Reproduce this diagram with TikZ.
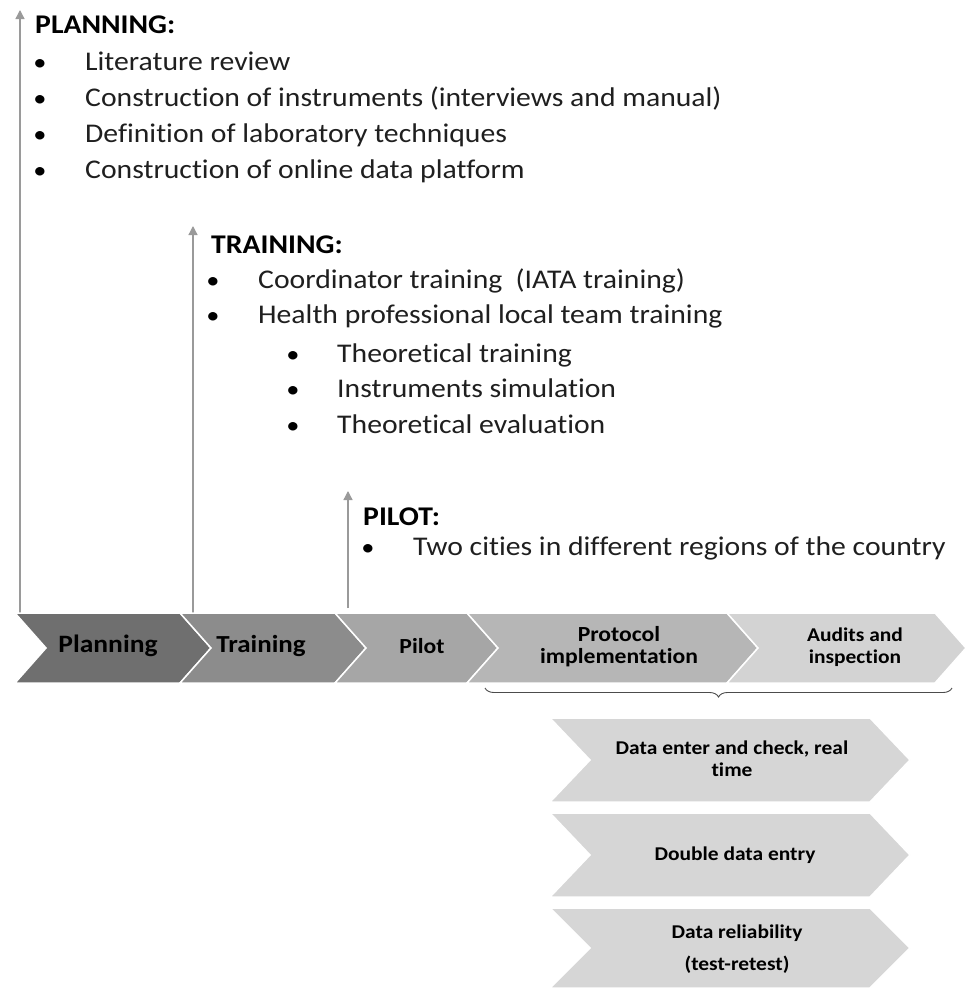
\documentclass[tikz,border=0pt]{standalone}
\usepackage{fontspec}
\setmainfont{Carlito}[FakeStretch=1.1, Ligatures=NoCommon]
\usepackage{xcolor}
\usetikzlibrary{arrows.meta, decorations.pathreplacing, positioning}

\definecolor{stepA}{HTML}{6F6F6F}
\definecolor{stepB}{HTML}{8C8C8C}
\definecolor{stepC}{HTML}{A6A6A6}
\definecolor{stepD}{HTML}{B6B6B6}
\definecolor{stepE}{HTML}{D3D3D3}
\definecolor{subStep}{HTML}{D6D6D6}
\definecolor{upLine}{HTML}{9A9A9A}

\begin{document}
\begin{tikzpicture}[x=1pt, y=-1pt,
    chev/.style={draw=white, line width=1.5pt},
    uparrow/.style={draw=upLine, line width=1.3pt, -{Triangle[width=9pt,length=9pt]}},
    head/.style={anchor=base west, inner sep=0pt, font=\bfseries\fontsize{27}{30}\selectfont},
    item/.style={anchor=base west, inner sep=0pt, text=black!88, font=\fontsize{27}{30}\selectfont},
    dot/.style={anchor=base, inner sep=0pt, font=\fontsize{24}{26}\selectfont},
    steplabel/.style={inner sep=0pt, align=center, font=\bfseries},
    brace/.style={draw=black!70, line width=0.9pt, decorate,
        decoration={brace, mirror, amplitude=9pt}}]

    % =================================================================
    % 1. KHUNG HINH
    % =================================================================
    \useasboundingbox (0,0) rectangle (966,988);

    % =================================================================
    % 2. CAC MUI TEN DUNG
    % =================================================================
    \coordinate (planlow) at (20,613);
    \coordinate (plantop) at (20,10);
    \coordinate (trainlow) at (193,613);
    \coordinate (traintop) at (193,226);
    \coordinate (pilotlow) at (348,608);
    \coordinate (pilottop) at (348,491);

    \draw[uparrow] (planlow) -- (plantop);
    \draw[uparrow] (trainlow) -- (traintop);
    \draw[uparrow] (pilotlow) -- (pilottop);

    % =================================================================
    % 3. DAI MUI TEN CHINH
    % =================================================================
    \foreach \a/\b/\c in {15/180/stepA, 180/335/stepB, 335/467/stepC,
                          467/727/stepD, 727/935/stepE}
        \filldraw[chev, fill=\c] (\a,613) -- (\b,613) -- ({\b+31},648)
            -- (\b,683) -- (\a,683) -- ({\a+31},648) -- cycle;

    \node[steplabel, font=\bfseries\fontsize{25}{28}\selectfont] (plan) at (108,646) {Planning};
    \node[steplabel, font=\bfseries\fontsize{24.5}{28}\selectfont] (train) at (261,646) {Training};
    \node[steplabel, font=\bfseries\fontsize{21.5}{25}\selectfont] (pilot) at (422,646) {Pilot};
    \node[steplabel, font=\bfseries\fontsize{21.5}{22}\selectfont] (proto) at (619,647)
        {Protocol\\implementation};
    \node[steplabel, font=\bfseries\fontsize{19.5}{22}\selectfont] (audit) at (855,647)
        {Audits and\\inspection};

    % ngoac nhon duoi hai buoc cuoi
    \coordinate (brL) at (485,688);
    \coordinate (brR) at (952,688);
    \draw[brace] (brL) -- (brR);

    % =================================================================
    % 4. CAC BUOC CON
    % =================================================================
    \foreach \t/\b in {718/802, 813/897, 908/988}
        \filldraw[chev, fill=subStep] (550,\t) -- (870,\t) -- (910,{(\t+\b)/2})
            -- (870,\b) -- (550,\b) -- (590,{(\t+\b)/2}) -- cycle;

    \node[steplabel, font=\bfseries\fontsize{19.5}{22}\selectfont] (dat1) at (732,759)
        {Data enter and check, real\\time};
    \node[steplabel, font=\bfseries\fontsize{19.5}{22}\selectfont] (dat2) at (735,855)
        {Double data entry};
    \node[steplabel, font=\bfseries\fontsize{19.5}{32}\selectfont] (dat3) at (737,949)
        {Data reliability\\(test-retest)};

    % =================================================================
    % 5. NOI DUNG TUNG GIAI DOAN
    % =================================================================
    \node[head] (planhead) at (35,33) {PLANNING:};
    \foreach \y/\t in {70/Literature review,
                       106/Construction of instruments (interviews and manual),
                       142/Definition of laboratory techniques,
                       178/Construction of online data platform} {
        \node[dot] (pd\y) at (40,\y) {•};
        \node[item] (pl\y) at (85,\y) {\t};
    }

    \node[head] (trainhead) at (211,253) {TRAINING:};
    \foreach \y/\t in {288/Coordinator training~~(IATA training),
                       323/Health professional local team training} {
        \node[dot] (td\y) at (213,\y) {•};
        \node[item] (tr\y) at (258,\y) {\t};
    }
    \foreach \y/\t in {362/Theoretical training,
                       397/Instruments simulation,
                       433/Theoretical evaluation} {
        \node[dot] (sd\y) at (293,\y) {•};
        \node[item] (st\y) at (337,\y) {\t};
    }

    \node[head] (pilothead) at (363,525) {PILOT:};
    \node[dot] (pid) at (368,555) {•};
    \node[item] (pi555) at (413,555) {Two cities in different regions of the country};

\end{tikzpicture}
\end{document}
